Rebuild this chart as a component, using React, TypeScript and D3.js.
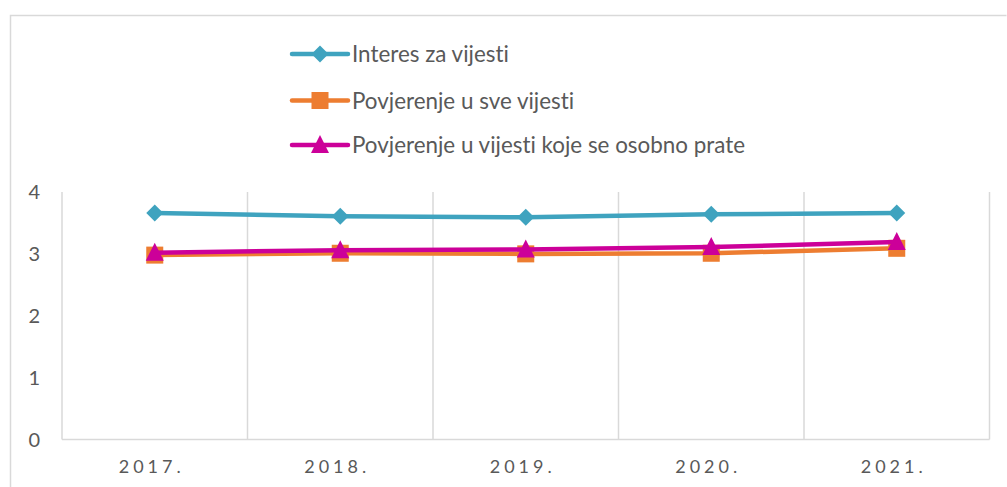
import React from "react";
import * as d3 from "d3";

const categories = ["2017.", "2018.", "2019.", "2020.", "2021."];
const interes = [3.66, 3.61, 3.59, 3.64, 3.66];
const povjerenjeSve = [2.98, 3.01, 3.0, 3.01, 3.09];
const povjerenjeOsobno = [3.02, 3.06, 3.07, 3.11, 3.19];
const yTicks = [0, 1, 2, 3, 4];

const seriesNames = [
  "Interes za vijesti",
  "Povjerenje u sve vijesti",
  "Povjerenje u vijesti koje se osobno prate",
];
const seriesColors = ["#3FA3BF", "#ED7D31", "#CC0099"];
const seriesMarkers = ["diamond", "square", "triangle"];

const W = 1007;
const H = 487;
const plot = { left: 62, right: 989.5, top: 192, bottom: 439.5 };
const FONT = "Lato, 'Open Sans', sans-serif";

function Marker({ type, x, y, color }: { type: string; x: number; y: number; color: string }) {
  if (type === "diamond") {
    const r = 8.5;
    return <path d={`M${x},${y - r}L${x + r},${y}L${x},${y + r}L${x - r},${y}Z`} fill={color} />;
  }
  if (type === "square") {
    const s = 8.5;
    return <rect x={x - s} y={y - s} width={2 * s} height={2 * s} fill={color} />;
  }
  const s = 9;
  return <path d={`M${x},${y - s - 1}L${x + s},${y + s - 1}L${x - s},${y + s - 1}Z`} fill={color} />;
}

export default function App() {
  const x = d3.scaleBand<string>().domain(categories).range([plot.left, plot.right]);
  const y = d3.scaleLinear().domain([0, 4]).range([plot.bottom, plot.top]);
  const data = [interes, povjerenjeSve, povjerenjeOsobno];
  const line = d3
    .line<number>()
    .x((_, i) => (x(categories[i]) as number) + x.bandwidth() / 2)
    .y((d) => y(d));

  const gridXs = categories.map((c) => x(c) as number).concat([plot.right]);
  const legendY = [54, 100.5, 145];

  return (
    <svg
      width={W}
      height={H}
      style={{ position: "fixed", left: 0, top: 0, background: "#fff", fontVariantLigatures: "none" }}
      fontFamily={FONT}
    >
      <rect x={0} y={0} width={W} height={H} fill="#fff" />
      <path d={`M10.5,${H}V15.5H${W - 0.5}`} fill="none" stroke="#D9D9D9" strokeWidth={1.5} />
      {gridXs.map((gx, i) => (
        <line key={i} x1={gx} x2={gx} y1={plot.top} y2={plot.bottom} stroke="#D9D9D9" strokeWidth={1.5} />
      ))}
      <line x1={plot.left} x2={plot.right} y1={plot.bottom} y2={plot.bottom} stroke="#D9D9D9" strokeWidth={1.5} />
      {yTicks.map((t) => (
        <text key={t} x={40} y={y(t)} dy="0.36em" textAnchor="end" fontSize={20} fill="#595959">
          {t}
        </text>
      ))}
      {categories.map((c) => (
        <text
          key={c}
          x={(x(c) as number) + x.bandwidth() / 2 - 3}
          y={467}
          dy="0.36em"
          textAnchor="middle"
          fontSize={18}
          letterSpacing={4}
          fill="#595959"
        >
          {c}
        </text>
      ))}
      {data.map((vals, si) => (
        <g key={si}>
          <path d={line(vals) || ""} fill="none" stroke={seriesColors[si]} strokeWidth={4.5} strokeLinejoin="round" />
          {vals.map((v, i) => (
            <Marker
              key={i}
              type={seriesMarkers[si]}
              x={(x(categories[i]) as number) + x.bandwidth() / 2}
              y={y(v)}
              color={seriesColors[si]}
            />
          ))}
        </g>
      ))}
      {seriesNames.map((n, si) => (
        <g key={n}>
          <line x1={292} x2={348} y1={legendY[si]} y2={legendY[si]} stroke={seriesColors[si]} strokeWidth={4.5} strokeLinecap="round" />
          <Marker type={seriesMarkers[si]} x={320} y={legendY[si]} color={seriesColors[si]} />
          <text x={352} y={legendY[si]} dy="0.36em" fontSize={22.4} fill="#595959">
            {n}
          </text>
        </g>
      ))}
    </svg>
  );
}
